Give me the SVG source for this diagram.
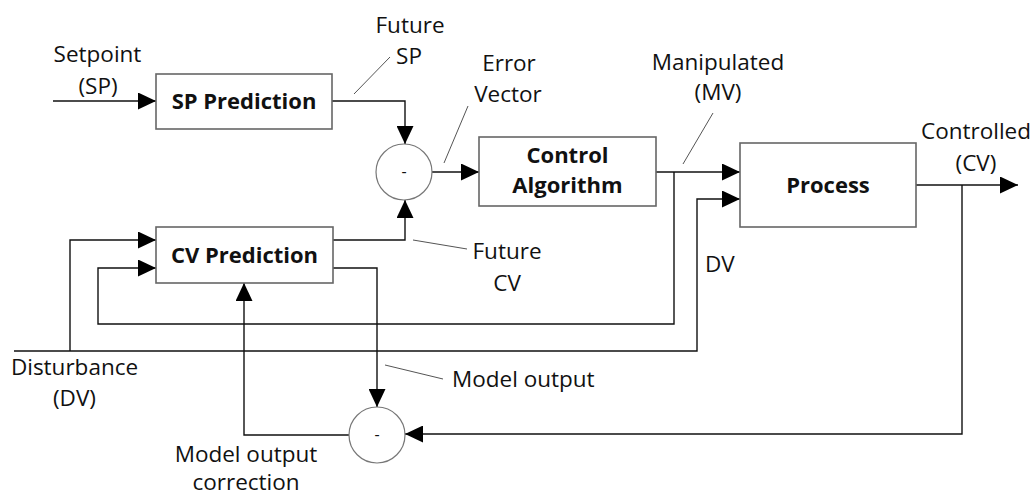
<svg xmlns="http://www.w3.org/2000/svg" width="1034" height="497" viewBox="0 0 1034 497">
<style>
.box{fill:#fff;stroke:#666;stroke-width:1.6}
.sum{fill:#fff;stroke:#777;stroke-width:1.2}
.ln{fill:none;stroke:#111;stroke-width:1.4}
.ld{fill:none;stroke:#555;stroke-width:1}
text{font-family:"Open Sans","Noto Sans",sans-serif;font-size:22.5px;fill:#111}
.b{font-weight:bold;text-anchor:middle;font-size:22px}
.m{text-anchor:middle}
.minus{font-size:16px;text-anchor:middle}
</style>
<defs>
<marker id="ah" markerUnits="userSpaceOnUse" markerWidth="18" markerHeight="17" refX="18" refY="8.5" orient="auto">
<path d="M0,0 L18,8.5 L0,17 z" fill="#000"/>
</marker>
</defs>
<rect width="1034" height="497" fill="#fff"/>
<g id="connectors">
<path class="ln" d="M53,101 H156" marker-end="url(#ah)"/>
<path class="ln" d="M332,101 H405 V144" marker-end="url(#ah)"/>
<path class="ln" d="M432,172 H479" marker-end="url(#ah)"/>
<path class="ln" d="M656,172 H740" marker-end="url(#ah)"/>
<path class="ln" d="M916,185 H1018" marker-end="url(#ah)"/>
<path class="ln" d="M962,185 V434 H405" marker-end="url(#ah)"/>
<path class="ln" d="M674,172 V324 H98 V268 H156" marker-end="url(#ah)"/>
<path class="ln" d="M14,351 H697 V199 H740" marker-end="url(#ah)"/>
<path class="ln" d="M70,351 V240 H156" marker-end="url(#ah)"/>
<path class="ln" d="M333,240 H405 V200" marker-end="url(#ah)"/>
<path class="ln" d="M333,268 H377 V407" marker-end="url(#ah)"/>
<path class="ln" d="M349,435 H244 V283" marker-end="url(#ah)"/>
<path class="ld" d="M354,94 L390,57"/>
<path class="ld" d="M444,163 L468,106"/>
<path class="ld" d="M683,164 L713,113"/>
<path class="ld" d="M413,240 L467,249"/>
<path class="ld" d="M385,365 L443,379"/>
</g>
<g id="sp-prediction">
<rect class="box" x="156" y="74" width="176" height="55"/>
<text class="b" x="244" y="109">SP Prediction</text>
</g>
<g id="cv-prediction">
<rect class="box" x="156" y="227" width="177" height="56"/>
<text class="b" x="244.5" y="263">CV Prediction</text>
</g>
<g id="control-algorithm">
<rect class="box" x="479" y="137" width="177" height="69"/>
<text class="b" x="567.5" y="163">Control</text>
<text class="b" x="567.5" y="193">Algorithm</text>
</g>
<g id="process">
<rect class="box" x="740" y="143" width="176" height="84"/>
<text class="b" x="828" y="193">Process</text>
</g>
<g id="sum1">
<circle class="sum" cx="404" cy="172" r="28"/>
<text class="minus" x="404" y="177">-</text>
</g>
<g id="sum2">
<circle class="sum" cx="377" cy="435" r="28"/>
<text class="minus" x="377" y="440">-</text>
</g>
<g id="labels">
<text class="m" x="97.5" y="62">Setpoint</text>
<text class="m" x="98" y="94">(SP)</text>
<text class="m" x="410" y="33">Future</text>
<text class="m" x="409" y="64">SP</text>
<text class="m" x="509" y="71">Error</text>
<text class="m" x="508" y="102">Vector</text>
<text class="m" x="718" y="70">Manipulated</text>
<text class="m" x="718" y="100">(MV)</text>
<text class="m" x="976" y="139">Controlled</text>
<text class="m" x="976" y="171">(CV)</text>
<text class="m" x="507" y="259">Future</text>
<text class="m" x="507" y="291">CV</text>
<text x="705" y="272">DV</text>
<text x="452" y="387">Model output</text>
<text class="m" x="74.5" y="375">Disturbance</text>
<text class="m" x="74.5" y="406">(DV)</text>
<text class="m" x="246" y="462">Model output</text>
<text class="m" x="246" y="490">correction</text>
</g>
</svg>
